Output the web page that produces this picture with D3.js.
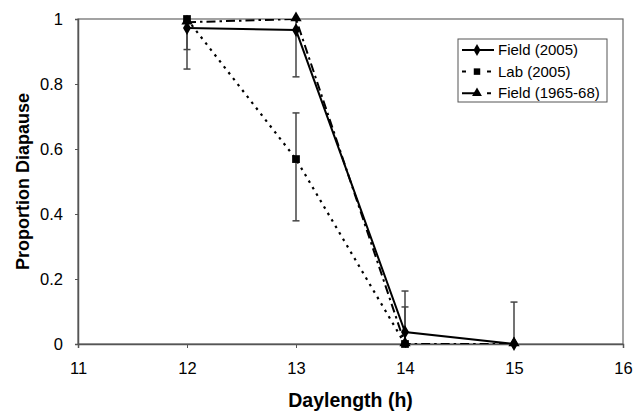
<!DOCTYPE html>
<html>
<head>
<meta charset="utf-8">
<script src="https://cdn.jsdelivr.net/npm/d3@7"></script>
<style>
  body { margin: 0; background: #fff; }
  text { font-family: 'Liberation Sans', Arial, sans-serif; }
</style>
</head>
<body>
<script>
// Data
const daylength = [12, 13, 14, 15];
const field2005 = [0.972, 0.966, 0.037, 0];
const field2005Err = [0.126, 0.144, 0.126, 0.129];
const lab2005 = [1.0, 0.569, 0];
const lab2005ErrUp = [0.094, 0.142, 0.114];
const lab2005ErrDown = [0.094, 0.19, 0.114];
const field1965 = [0.99, 1.0, 0, 0];
const xTicks = [11, 12, 13, 14, 15, 16];
const yTicks = [0, 0.2, 0.4, 0.6, 0.8, 1];

let width = 640, height = 413;
let margin = { top: 19, right: 17, bottom: 69, left: 78 };

let svg = d3.select('body').append('svg')
  .attr('width', width)
  .attr('height', height);

let x = d3.scaleLinear().domain([11, 16]).range([margin.left, width - margin.right]);
let y = d3.scaleLinear().domain([0, 1]).range([height - margin.bottom, margin.top]);

// clip for plot area
svg.append('clipPath').attr('id', 'clip')
  .append('rect')
  .attr('x', margin.left).attr('y', margin.top)
  .attr('width', x(16) - x(11)).attr('height', y(0) - y(1));

// plot border
svg.append('rect')
  .attr('x', margin.left).attr('y', margin.top)
  .attr('width', x(16) - x(11)).attr('height', y(0) - y(1))
  .attr('fill', 'none')
  .attr('stroke', '#666')
  .attr('stroke-width', 1.2);

// axes
let xAxis = svg.append('g')
  .attr('transform', `translate(0, ${y(0)})`)
  .call(d3.axisBottom(x).tickValues(xTicks).tickSize(4).tickPadding(14).tickFormat(d3.format('d')));
let yAxis = svg.append('g')
  .attr('transform', `translate(${margin.left}, 0)`)
  .call(d3.axisLeft(y).tickValues(yTicks).tickSize(3).tickPadding(12).tickFormat(d => d === 0 || d === 1 ? d : d3.format('.1f')(d)));

[xAxis, yAxis].forEach(a => {
  a.select('.domain').attr('stroke', '#555').attr('stroke-width', 1.5);
  a.selectAll('.tick line').attr('stroke', '#555');
  a.selectAll('.tick text').style('font-size', '16.5px').attr('fill', '#000');
});

// axis titles
svg.append('text')
  .attr('x', (x(11) + x(16)) / 2)
  .attr('y', 407)
  .attr('text-anchor', 'middle')
  .style('font-size', '19.5px')
  .style('font-weight', 'bold')
  .text('Daylength (h)');

svg.append('text')
  .attr('transform', 'rotate(-90)')
  .attr('x', -(y(0) + y(1)) / 2)
  .attr('y', 29)
  .attr('text-anchor', 'middle')
  .style('font-size', '18px')
  .style('font-weight', 'bold')
  .text('Proportion Diapause');

let plot = svg.append('g').attr('clip-path', 'url(#clip)');

// error bars
function errorBars(xs, vals, up, down) {
  xs.forEach((d, i) => {
    let top = vals[i] + up[i], bot = vals[i] - down[i];
    plot.append('line')
      .attr('x1', x(d)).attr('x2', x(d))
      .attr('y1', y(top)).attr('y2', y(bot))
      .attr('stroke', '#444').attr('stroke-width', 1.5);
    [top, bot].forEach(v => {
      plot.append('line')
        .attr('x1', x(d) - 3.5).attr('x2', x(d) + 3.5)
        .attr('y1', y(v)).attr('y2', y(v))
        .attr('stroke', '#444').attr('stroke-width', 1.5);
    });
  });
}
errorBars(daylength, field2005, field2005Err, field2005Err);
errorBars(daylength.slice(0, 3), lab2005, lab2005ErrUp, lab2005ErrDown);

let line = d3.line().x((d, i) => x(daylength[i])).y(d => y(d));

// lines
plot.append('path').datum(lab2005)
  .attr('d', line).attr('fill', 'none')
  .attr('stroke', '#000').attr('stroke-width', 2.2)
  .attr('stroke-dasharray', '2.5,5');

plot.append('path').datum(field1965)
  .attr('d', line).attr('fill', 'none')
  .attr('stroke', '#000').attr('stroke-width', 2)
  .attr('stroke-dasharray', '9,4,2.5,4');

plot.append('path').datum(field2005)
  .attr('d', line).attr('fill', 'none')
  .attr('stroke', '#000').attr('stroke-width', 2);

// markers
const diamond = d3.symbol().type(d3.symbolDiamond).size(55);
const square = d3.symbol().type(d3.symbolSquare).size(60);
const triangle = d3.symbol().type(d3.symbolTriangle).size(55);

svg.selectAll('.m-lab').data(lab2005).enter().append('path')
  .attr('d', square)
  .attr('transform', (d, i) => `translate(${x(daylength[i])},${y(d)})`);
svg.selectAll('.m-f65').data(field1965).enter().append('path')
  .attr('d', triangle)
  .attr('transform', (d, i) => `translate(${x(daylength[i])},${y(d) - 1})`);
svg.selectAll('.m-f05').data(field2005).enter().append('path')
  .attr('d', diamond)
  .attr('transform', (d, i) => `translate(${x(daylength[i])},${y(d)})`);

// legend
const legendItems = [
  { name: 'Field (2005)', dash: null, sym: diamond },
  { name: 'Lab (2005)', dash: '4,21,4,10', sym: square },
  { name: 'Field (1965-68)', dash: '14,11,4,10', sym: triangle }
];
let legend = svg.append('g');
legend.append('rect')
  .attr('x', 458).attr('y', 39).attr('width', 149).attr('height', 63)
  .attr('fill', '#fff').attr('stroke', '#555').attr('stroke-width', 1);
legendItems.forEach((d, i) => {
  let ly = 50 + i * 21.6;
  legend.append('line')
    .attr('x1', 462).attr('x2', 494).attr('y1', ly).attr('y2', ly)
    .attr('stroke', '#000').attr('stroke-width', 2)
    .attr('stroke-dasharray', d.dash);
  legend.append('path').attr('d', d.sym.size(42)).attr('transform', `translate(477,${ly})`);
  legend.append('text')
    .attr('x', 498).attr('y', ly).attr('dy', '0.35em')
    .style('font-size', '15px')
    .text(d.name);
});
</script>
</body>
</html>
